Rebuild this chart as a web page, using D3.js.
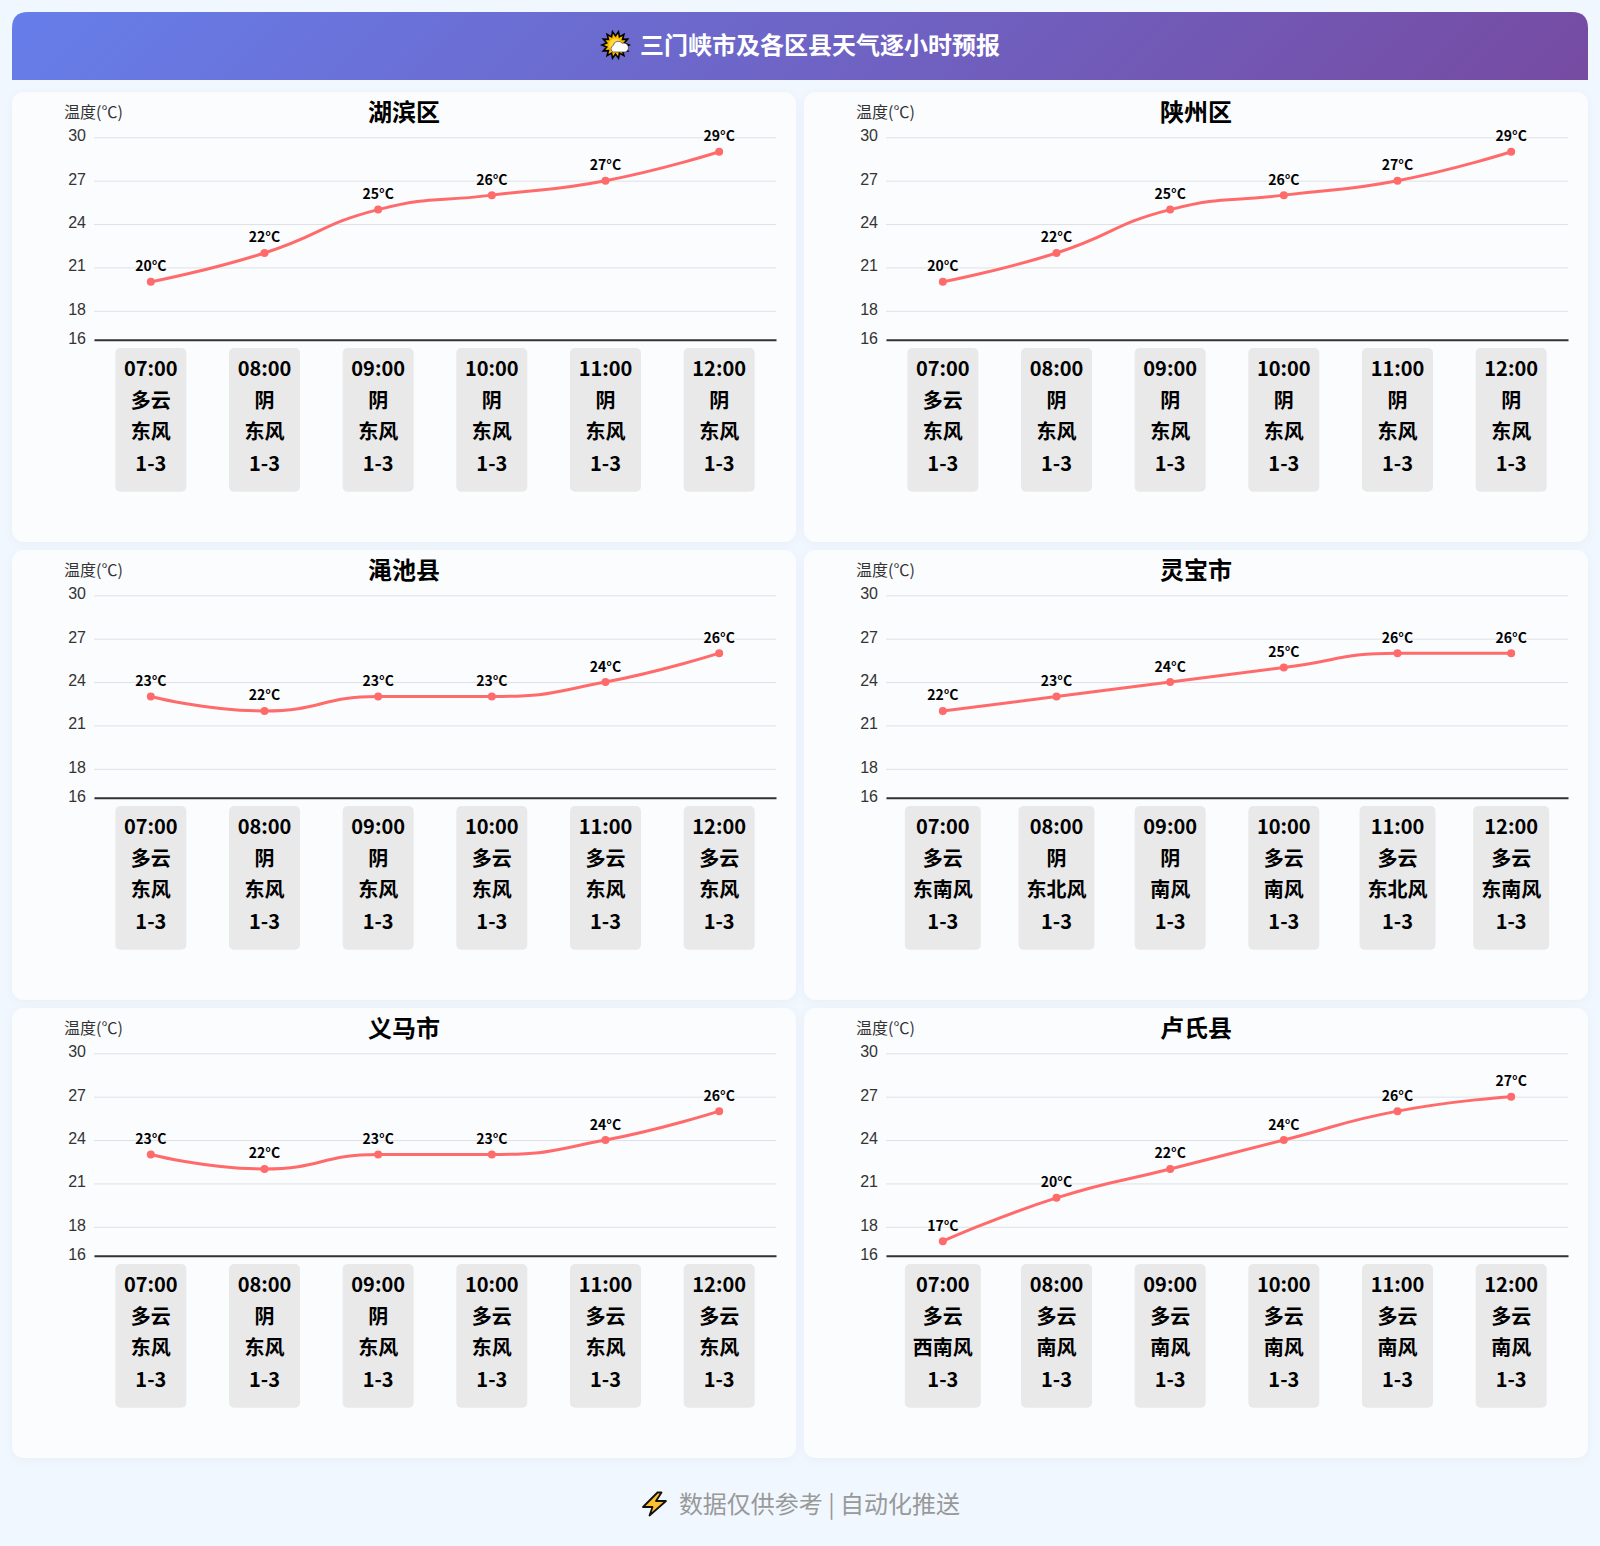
<!DOCTYPE html>
<html lang="zh">
<head>
<meta charset="utf-8">
<title>三门峡市及各区县天气逐小时预报</title>
<script src="https://cdn.jsdelivr.net/npm/d3@7/dist/d3.min.js"></script>
<style>
html,body{margin:0;padding:0;background:#f0f7ff;}
svg{display:block;font-family:"Noto Sans CJK SC","Noto Sans",sans-serif;}
</style>
</head>
<body>
<svg id="chart" width="1600" height="1546"></svg>
<script>
const titleText = "三门峡市及各区县天气逐小时预报";
const footerText = "数据仅供参考 | 自动化推送";
const yAxisName = "温度(℃)";
const yTicks = [16, 18, 21, 24, 27, 30];
const hours = ["07:00", "08:00", "09:00", "10:00", "11:00", "12:00"];
const windLevels = ["1-3", "1-3", "1-3", "1-3", "1-3", "1-3"];
const districts = ["湖滨区", "陕州区", "渑池县", "灵宝市", "义马市", "卢氏县"];

const tempHubin = [20, 22, 25, 26, 27, 29];
const tempShanzhou = [20, 22, 25, 26, 27, 29];
const tempMianchi = [23, 22, 23, 23, 24, 26];
const tempLingbao = [22, 23, 24, 25, 26, 26];
const tempYima = [23, 22, 23, 23, 24, 26];
const tempLushi = [17, 20, 22, 24, 26, 27];

const skyHubin = ["多云", "阴", "阴", "阴", "阴", "阴"];
const skyShanzhou = ["多云", "阴", "阴", "阴", "阴", "阴"];
const skyMianchi = ["多云", "阴", "阴", "多云", "多云", "多云"];
const skyLingbao = ["多云", "阴", "阴", "多云", "多云", "多云"];
const skyYima = ["多云", "阴", "阴", "多云", "多云", "多云"];
const skyLushi = ["多云", "多云", "多云", "多云", "多云", "多云"];

const windHubin = ["东风", "东风", "东风", "东风", "东风", "东风"];
const windShanzhou = ["东风", "东风", "东风", "东风", "东风", "东风"];
const windMianchi = ["东风", "东风", "东风", "东风", "东风", "东风"];
const windLingbao = ["东南风", "东北风", "南风", "南风", "东北风", "东南风"];
const windYima = ["东风", "东风", "东风", "东风", "东风", "东风"];
const windLushi = ["西南风", "南风", "南风", "南风", "南风", "南风"];

const temps = [tempHubin, tempShanzhou, tempMianchi, tempLingbao, tempYima, tempLushi];
const skies = [skyHubin, skyShanzhou, skyMianchi, skyLingbao, skyYima, skyLushi];
const winds = [windHubin, windShanzhou, windMianchi, windLingbao, windYima, windLushi];

const svg = d3.select("#chart");
const defs = svg.append("defs");
const grad = defs.append("linearGradient").attr("id", "headGrad")
  .attr("gradientUnits", "userSpaceOnUse")
  .attr("x1", 800 - 411).attr("y1", 46 - 411).attr("x2", 800 + 411).attr("y2", 46 + 411);
grad.append("stop").attr("offset", "0%").attr("stop-color", "#667eea");
grad.append("stop").attr("offset", "100%").attr("stop-color", "#764ba2");
const shadow = defs.append("filter").attr("id", "cardShadow")
  .attr("x", "-5%").attr("y", "-5%").attr("width", "110%").attr("height", "110%");
shadow.append("feDropShadow").attr("dx", 0).attr("dy", 2).attr("stdDeviation", 4)
  .attr("flood-color", "#000").attr("flood-opacity", 0.035);

// Smooth curve with the same tension-and-clamp behaviour as the source line
function clampTo(v, a, b) { return Math.max(Math.min(v, Math.max(a, b)), Math.min(a, b)); }
function smoothCurve(context) {
  const xs = [], ys = [];
  return {
    areaStart() {}, areaEnd() {},
    lineStart() { xs.length = 0; ys.length = 0; },
    point(x, y) { xs.push(+x); ys.push(+y); },
    lineEnd() {
      const k = 0.5, n = xs.length;
      let c0x = xs[0], c0y = ys[0];
      context.moveTo(xs[0], ys[0]);
      for (let i = 1; i < n; i++) {
        const x = xs[i], y = ys[i];
        let c1x = x, c1y = y, nx0 = x, ny0 = y;
        if (i < n - 1) {
          const px = xs[i - 1], py = ys[i - 1], nx = xs[i + 1], ny = ys[i + 1];
          let vx = nx - px, vy = ny - py;
          const lp = Math.hypot(x - px, y - py), ln = Math.hypot(nx - x, ny - y);
          const r = ln / (ln + lp);
          let a = clampTo(x + vx * k * r, nx, x), b = clampTo(y + vy * k * r, ny, y);
          vx = a - x; vy = b - y;
          c1x = clampTo(x - vx * lp / ln, px, x);
          c1y = clampTo(y - vy * lp / ln, py, y);
          vx = x - c1x; vy = y - c1y;
          nx0 = x + vx * ln / lp; ny0 = y + vy * ln / lp;
        }
        context.bezierCurveTo(c0x, c0y, c1x, c1y, x, y);
        c0x = nx0; c0y = ny0;
      }
    }
  };
}

// Header
const hx = 12, hy = 12, hw = 1576, hh = 68, hr = 16;
svg.append("path")
  .attr("d", `M${hx},${hy + hh}V${hy + hr}Q${hx},${hy} ${hx + hr},${hy}H${hx + hw - hr}Q${hx + hw},${hy} ${hx + hw},${hy + hr}V${hy + hh}Z`)
  .attr("fill", "url(#headGrad)");
svg.append("text").attr("x", 820).attr("y", 54).attr("text-anchor", "middle")
  .attr("font-size", 24).attr("font-weight", 700).attr("fill", "#fff").text(titleText);

// Sun-and-cloud glyph
const sun = svg.append("g").attr("transform", "translate(615.5,45)");
const spikes = d3.range(28).map(i => {
  const r = i % 2 ? 9 : 13.5, a = i * Math.PI / 14;
  return [r * Math.cos(a), r * Math.sin(a)];
});
sun.append("polygon").attr("points", spikes.join(" ")).attr("fill", "#fdb900")
  .attr("stroke", "#000").attr("stroke-width", 1.6).attr("stroke-linejoin", "miter");
sun.append("circle").attr("r", 6.5).attr("fill", "#ffd83b");
sun.append("path").attr("d", "M-2,7 a3.4,3.4 0 0 1 -0.2,-6.5 a5,5 0 0 1 9,-2.2 a4.4,4.4 0 0 1 3,8.7 Z")
  .attr("fill", "#fff").attr("stroke", "#222").attr("stroke-width", 0.6);

// Footer
svg.append("text").attr("x", 819.5).attr("y", 1513).attr("text-anchor", "middle")
  .attr("font-size", 24).attr("fill", "#999").text(footerText);
svg.append("path").attr("transform", "translate(654.5,1504)")
  .attr("d", "M3,-11.5 L-11.5,3 L-2,3 L-5,11.5 L11.5,-3 L1.5,-3 L7,-11.5 Z")
  .attr("fill", "#fcc02e").attr("stroke", "#111").attr("stroke-width", 1.8).attr("stroke-linejoin", "round");

// Cards
const cardW = 784, cardH = 450;
districts.forEach((name, idx) => {
  const col = idx % 2, row = Math.floor(idx / 2);
  const g = svg.append("g").attr("transform", `translate(${12 + col * 792},${92 + row * 458})`);
  g.append("rect").attr("width", cardW).attr("height", cardH).attr("rx", 12)
    .attr("fill", "#fbfcfe").attr("filter", "url(#cardShadow)");

  const x = d3.scaleBand().domain(hours).range([82, 764]);
  const y = d3.scaleLinear().domain([16, 30]).range([247.7, 45.3]);

  g.append("text").attr("x", 392).attr("y", 28.5).attr("text-anchor", "middle")
    .attr("font-size", 24).attr("font-weight", 700).attr("fill", "#000").text(name);
  g.append("text").attr("x", 81.5).attr("y", 26).attr("text-anchor", "middle")
    .attr("font-size", 16).attr("fill", "#333").text(yAxisName);

  // y axis with gridlines
  const yAxis = g.append("g").attr("transform", "translate(82,0)")
    .call(d3.axisLeft(y).tickValues(yTicks).tickSize(-682).tickPadding(8).tickFormat(d3.format("d")));
  yAxis.select(".domain").remove();
  yAxis.selectAll(".tick line").attr("stroke", "#dfe1e6").attr("stroke-width", 1);
  yAxis.selectAll(".tick text").attr("font-size", 16).attr("fill", "#333")
    .attr("font-family", "inherit").attr("dy", "0.22em");

  // x axis line
  const xAxis = g.append("g").attr("transform", `translate(0,${y(16)})`)
    .call(d3.axisBottom(x).tickSize(0).tickFormat(""));
  xAxis.select(".domain").attr("stroke", "#333").attr("stroke-width", 2);

  // Line and points
  const vals = temps[idx];
  const cx = (d, i) => x(hours[i]) + x.bandwidth() / 2;
  const line = d3.line().x(cx).y(d => y(d)).curve(smoothCurve);
  g.append("path").datum(vals).attr("d", line).attr("fill", "none")
    .attr("stroke", "#ff6b6b").attr("stroke-width", 3);
  g.selectAll(".pt").data(vals).join("circle").attr("class", "pt")
    .attr("cx", cx).attr("cy", d => y(d)).attr("r", 4).attr("fill", "#ff6b6b");
  g.selectAll(".lab").data(vals).join("text").attr("class", "lab")
    .attr("x", cx).attr("y", d => y(d) - 10.5).attr("text-anchor", "middle")
    .attr("font-size", 14).attr("font-weight", 700).attr("fill", "#000")
    .text(d => d + "°C");

  // Category boxes
  hours.forEach((h, i) => {
    const c = cx(null, i);
    const lines = [h, skies[idx][i], winds[idx][i], windLevels[i]];
    const boxW = winds[idx][i].length > 2 ? 76 : 71;
    g.append("rect").attr("x", c - boxW / 2).attr("y", 256).attr("width", boxW).attr("height", 143.7)
      .attr("rx", 5).attr("fill", "#e9e9e9");
    lines.forEach((t, k) => {
      g.append("text").attr("x", c).attr("y", 284 + k * 31.6).attr("text-anchor", "middle")
        .attr("font-size", 20).attr("font-weight", 700).attr("fill", "#000").text(t);
    });
  });
});
</script>
</body>
</html>
